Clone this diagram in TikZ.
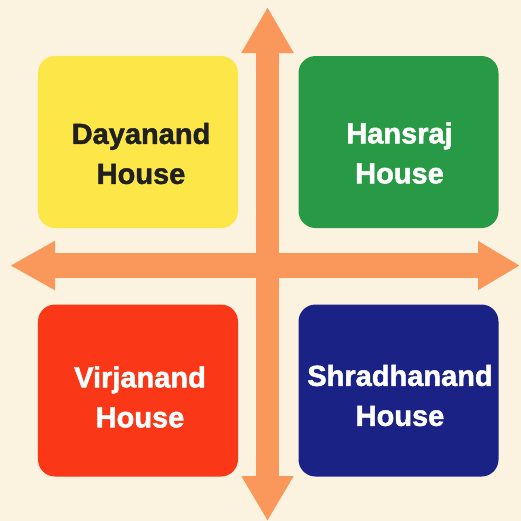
\documentclass[tikz,border=0pt]{standalone}
\usepackage{fontspec}
\setmainfont{Liberation Sans}
\newfontfamily\housefont[FakeBold=1.6]{Liberation Sans Bold}
\usetikzlibrary{arrows.meta}
\definecolor{bgcream}{RGB}{251,243,224}
\definecolor{arroworange}{RGB}{250,151,90}
\definecolor{dayanandyellow}{RGB}{252,230,72}
\definecolor{hansrajgreen}{RGB}{40,154,70}
\definecolor{virjanandred}{RGB}{250,56,24}
\definecolor{shradhanandblue}{RGB}{26,34,134}
\definecolor{darktext}{RGB}{32,32,32}
\begin{document}
\begin{tikzpicture}[scale=0.35146]
\tikzstyle{every node}+=[inner sep=0pt]
\tikzstyle{house}=[rectangle, rounded corners=17pt, minimum width=200pt, minimum height=172pt]
\tikzstyle{housename}=[align=center, font=\housefont\fontsize{29}{40}\selectfont]
\tikzstyle{axis}=[draw=arroworange]
\useasboundingbox (0,0) rectangle (52.1,-52.1);
\fill [bgcream] (0,0) rectangle (52.1,-52.1);
% axes
\coordinate (north) at (26.75,-0.7);
\coordinate (south) at (26.75,-52.1);
\coordinate (west) at (1.0,-26.55);
\coordinate (east) at (52.0,-26.55);
\draw [axis, line width=23pt, {Triangle[width=49pt,length=46pt]}-{Triangle[width=49pt,length=45pt]}] (north) -- (south);
\draw [axis, line width=25pt, {Triangle[width=46pt,length=45pt]}-{Triangle[width=46pt,length=42pt]}] (west) -- (east);
% houses
\node [house, fill=dayanandyellow] (dayanand) at (13.8,-14.2) {};
\node [housename, text=darktext] (dayanandname) at (14.1,-15.35) {Dayanand\\House};
\node [house, fill=hansrajgreen] (hansraj) at (39.85,-14.2) {};
\node [housename, text=white] (hansrajname) at (39.95,-15.3) {Hansraj\\House};
\node [house, fill=virjanandred] (virjanand) at (13.8,-39.05) {};
\node [housename, text=white] (virjanandname) at (14.0,-39.7) {Virjanand\\House};
\node [house, fill=shradhanandblue] (shradhanand) at (39.85,-39.05) {};
\node [housename, text=white] (shradhanandname) at (40.0,-39.55) {Shradhanand\\House};
\end{tikzpicture}
\end{document}
